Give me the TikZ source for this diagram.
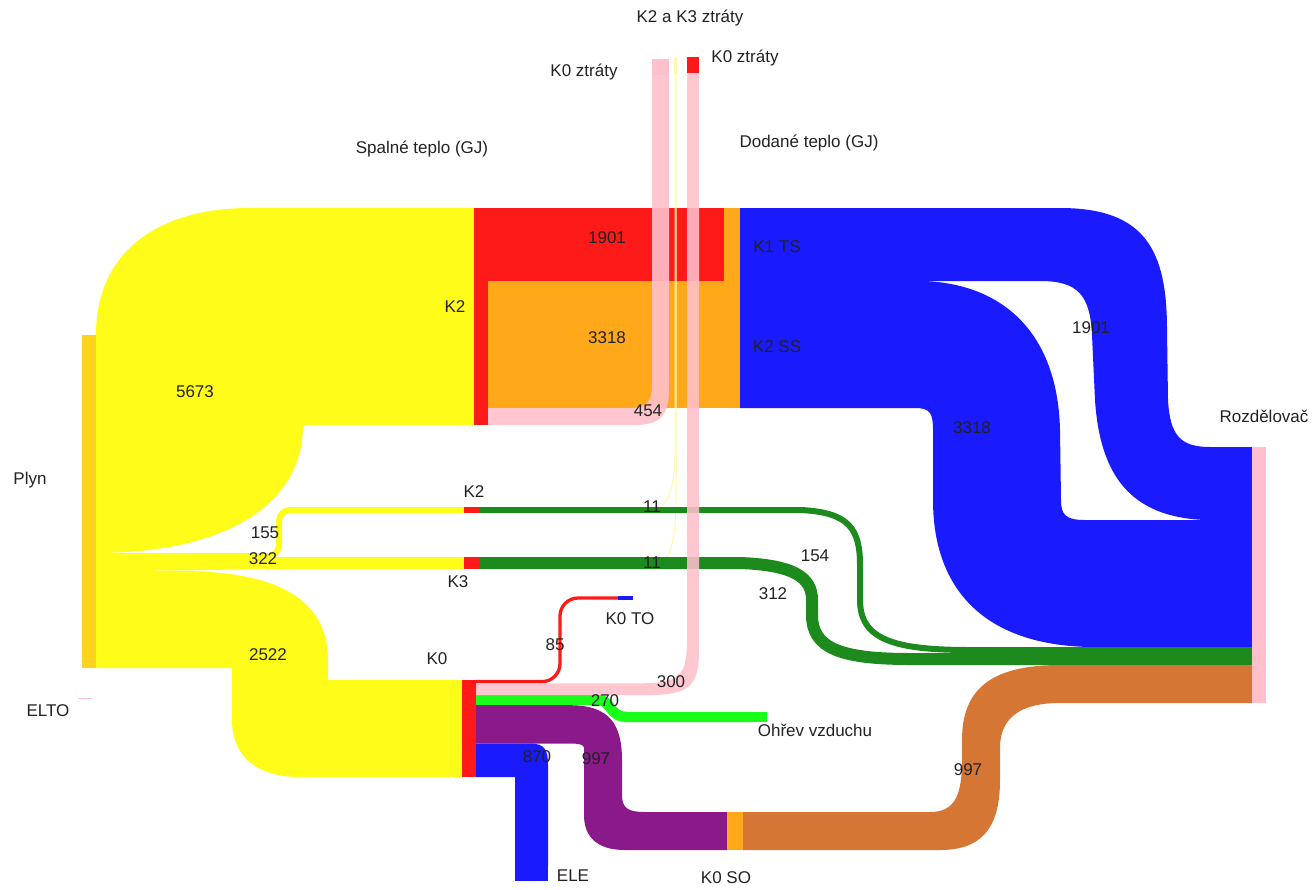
\documentclass[tikz,border=0pt]{standalone}
\usepackage{fontspec}
\setmainfont{Liberation Sans}
\definecolor{cYel}{RGB}{255,252,26}
\definecolor{cGold}{RGB}{255,210,30}
\definecolor{cRed}{RGB}{255,26,26}
\definecolor{cOra}{RGB}{255,168,26}
\definecolor{cPnk}{RGB}{255,192,203}
\definecolor{cBlu}{RGB}{26,26,255}
\definecolor{cGrn}{RGB}{28,138,28}
\definecolor{cLgr}{RGB}{26,255,26}
\definecolor{cPur}{RGB}{138,26,138}
\definecolor{cBrn}{RGB}{213,118,52}
\definecolor{cThin}{RGB}{255,248,170}
\definecolor{cTxt}{RGB}{34,34,34}
\begin{document}
\begin{tikzpicture}[x=1pt,y=-1pt,
  lbl/.style={inner sep=0pt, text=cTxt, font=\fontsize{17}{20}\selectfont},
  bar/.style={fill=#1, draw=none, inner sep=0pt, outer sep=0pt, anchor=north west}]
\useasboundingbox (0,0) rectangle (1312,889);

% --- gas (Plyn) flows, yellow ---
\fill[cYel] (96,335) .. controls (96,250) and (160,208) .. (250,208) -- (474,208)
  -- (474,425) -- (303,425) .. controls (303,505) and (225,553) .. (96,553) -- cycle;
\draw[cYel, line width=6, rounded corners=11] (96,556) -- (279,556) -- (279,510) -- (464,510);
\fill[cYel] (96,559) .. controls (200,559) and (220,557) .. (300,557) -- (464,557)
  -- (464,569) -- (300,569) .. controls (220,569) and (200,571) .. (96,571) -- cycle;
\fill[cYel] (96,571) -- (180,571) .. controls (282,571) and (328,602) .. (328,660)
  -- (328,680) -- (462,680) -- (462,777) -- (300,777) .. controls (255,777) and (232,755) .. (232,720)
  -- (232,668) -- (96,668) -- cycle;

% --- K2 boiler outputs ---
\fill[cRed] (488,208) rectangle (724,281);
\fill[cOra] (488,281) rectangle (724,408);

% --- heat delivered to the distributor, blue ---
\fill[cBlu] (740,208) -- (1060,208) .. controls (1145,208) and (1167,250) .. (1167,330)
  -- (1168,400) .. controls (1170,435) and (1180,447) .. (1210,447) -- (1252,447)
  -- (1252,520) -- (1205,520) .. controls (1130,517) and (1100,475) .. (1095,400)
  -- (1092,335) .. controls (1090,295) and (1078,281) .. (1040,281) -- (740,281) -- cycle;
\fill[cBlu] (740,281) -- (925,281) .. controls (1010,285) and (1058,340) .. (1060,430)
  -- (1061,500) .. controls (1061,515) and (1066,520) .. (1085,520) -- (1252,520)
  -- (1252,647) -- (1090,647) .. controls (985,645) and (933,590) .. (933,500)
  -- (933,430) .. controls (933,413) and (930,408) .. (915,408) -- (740,408) -- cycle;

% --- K2 and K3 losses, hair-thin ---
\draw[cThin, line width=1] (480,512) -- (645,512) .. controls (668,512) and (675,490) .. (675,450) -- (675,60);
\draw[cThin, line width=1] (480,568) -- (650,568) .. controls (670,568) and (676,540) .. (676,500) -- (676,60);

% --- K2 / K3 delivered heat, green ---
\draw[cGrn, line width=6] (480,510) -- (800,510) .. controls (850,512) and (860,530) .. (860,565)
  -- (860,600) .. controls (860,640) and (895,650) .. (970,650) -- (1252,650);
\draw[cGrn, line width=12] (480,563) -- (740,563) .. controls (795,565) and (812,578) .. (812,600)
  -- (812,615) .. controls (812,648) and (840,659) .. (910,659) -- (1252,659);

% --- K0 SO to distributor, brown ---
\fill[cBrn] (743,812) -- (930,812) .. controls (955,812) and (962,795) .. (962,760)
  -- (962,740) .. controls (962,690) and (990,665) .. (1060,665) -- (1252,665)
  -- (1252,703) -- (1060,703) .. controls (1020,703) and (1000,718) .. (1000,748)
  -- (1000,780) .. controls (1000,830) and (980,850) .. (940,850) -- (743,850) -- cycle;

% --- K0 outputs ---
\draw[cRed, line width=3.3, rounded corners=18] (476,681.6) -- (560,681.6) -- (560,598) -- (618,598);
\draw[cLgr, line width=10.4] (476,700) -- (598,700) .. controls (612,700) and (608,717) .. (628,717) -- (752,717);
\fill[cPur] (476,705.2) -- (570,705.2) .. controls (610,705.2) and (622,725) .. (622,760)
  -- (622,795) .. controls (622,808) and (628,812) .. (645,812) -- (727,812) -- (727,850)
  -- (625,850) .. controls (595,850) and (584,835) .. (584,815) -- (584,760)
  -- (584,748) .. controls (584,745) and (580,743.5) .. (570,743.5) -- (476,743.5) -- cycle;
\fill[cBlu] (476,743.5) -- (530,743.5) .. controls (545,743.5) and (548,750) .. (548,765)
  -- (548,866) -- (515,866) -- (515,777) -- (476,777) -- cycle;

% --- losses going up, pink ---
\fill[cPnk, opacity=0.9] (488,408) -- (630,408) .. controls (648,408) and (652,400) .. (652,385)
  -- (652,75) -- (669,75) -- (669,390) .. controls (669,415) and (660,425) .. (635,425) -- (488,425) -- cycle;
\fill[cPnk, opacity=0.88] (476,683.3) -- (640,683.3) .. controls (680,683.3) and (687,675) .. (687,640)
  -- (687,73) -- (699,73) -- (699,650) .. controls (699,685) and (690,695) .. (650,695) -- (476,695) -- cycle;

% --- nodes ---
\node[bar=cGold, minimum width=14pt, minimum height=333pt] (plyn) at (82,335) {};
\draw[cPnk, line width=1] (78,698.5) -- (92,698.5);
\node[bar=cRed, minimum width=14pt, minimum height=217pt] (k2) at (474,208) {};
\node[bar=cRed, minimum width=16pt, minimum height=6pt] (k2s) at (464,507) {};
\node[bar=cRed, minimum width=16pt, minimum height=12pt] (k3) at (464,557) {};
\node[bar=cRed, minimum width=14pt, minimum height=97pt] (k0) at (462,680) {};
\node[bar=cOra, minimum width=16pt, minimum height=73pt] (k1ts) at (724,208) {};
\node[bar=cOra, minimum width=16pt, minimum height=127pt] (k2ss) at (724,281) {};
\node[bar=cPnk, minimum width=17pt, minimum height=16pt] (k0zl) at (652,59) {};
\node[bar=cThin, minimum width=3pt, minimum height=16pt] (k23z) at (674,58) {};
\node[bar=cRed, minimum width=12pt, minimum height=16pt] (k0zr) at (687,57) {};
\node[bar=cBlu, minimum width=15pt, minimum height=3.3pt] (k0to) at (618,596.4) {};
\node[bar=cLgr, minimum width=15pt, minimum height=10.4pt] (ohrev) at (752,711.8) {};
\node[bar=cBlu, minimum width=33pt, minimum height=15pt] (ele) at (515,866) {};
\node[bar=cOra, minimum width=16pt, minimum height=38pt] (k0so) at (727,812) {};
\node[bar=cPnk, minimum width=14pt, minimum height=256pt] (rozd) at (1252,447) {};

% --- labels ---
\node[lbl] (tK23z) at (690,18) {K2 a K3 ztráty};
\node[lbl] (tK0zl) at (584,72) {K0 ztráty};
\node[lbl] (tK0zr) at (745,58) {K0 ztráty};
\node[lbl] (tSpal) at (422,149) {Spalné teplo (GJ)};
\node[lbl] (tDod) at (809,143) {Dodané teplo (GJ)};
\node[lbl] (v1901a) at (607,238) {1901};
\node[lbl] (v3318a) at (607,338) {3318};
\node[lbl] (v454) at (648,411) {454};
\node[lbl] (tK2) at (455,307) {K2};
\node[lbl] (tK1TS) at (777,247) {K1 TS};
\node[lbl] (tK2SS) at (777,347) {K2 SS};
\node[lbl] (v1901b) at (1091,328) {1901};
\node[lbl] (v3318b) at (972,428) {3318};
\node[lbl] (tRozd) at (1264,416) {Rozdělovač};
\node[lbl] (tPlyn) at (30,480) {Plyn};
\node[lbl] (v5673) at (195,392) {5673};
\node[lbl] (v155) at (265,533) {155};
\node[lbl] (v322) at (263,559) {322};
\node[lbl] (v2522) at (268,655) {2522};
\node[lbl] (tK2s) at (474,492) {K2};
\node[lbl] (tK3) at (458,582) {K3};
\node[lbl] (tK0) at (437,659) {K0};
\node[lbl] (tELTO) at (48,711) {ELTO};
\node[lbl] (v11a) at (652,507) {11};
\node[lbl] (v11b) at (652,563) {11};
\node[lbl] (v154) at (815,556) {154};
\node[lbl] (v312) at (773,594) {312};
\node[lbl] (v85) at (555,645) {85};
\node[lbl] (tK0TO) at (630,619) {K0 TO};
\node[lbl] (v300) at (671,682) {300};
\node[lbl] (v270) at (605,701) {270};
\node[lbl] (tOhrev) at (815,730) {Ohřev vzduchu};
\node[lbl] (v870) at (537,757) {870};
\node[lbl] (v997a) at (596,759) {997};
\node[lbl] (v997b) at (968,770) {997};
\node[lbl] (tELE) at (573,876) {ELE};
\node[lbl] (tK0SO) at (726,878) {K0 SO};
\end{tikzpicture}
\end{document}
